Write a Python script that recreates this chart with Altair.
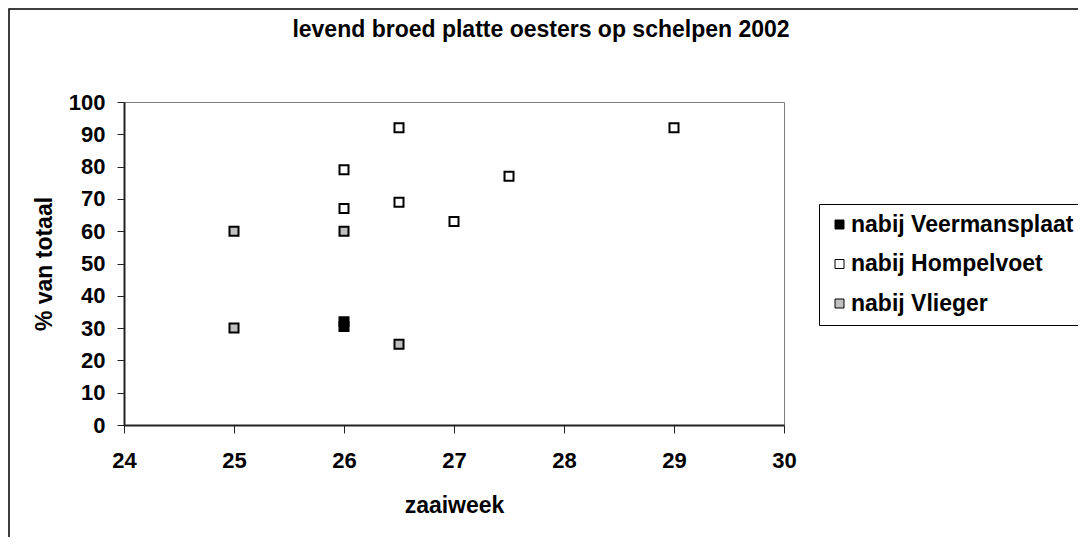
import altair as alt
import pandas as pd

# ---- data ----
series_names = ["nabij Veermansplaat", "nabij Hompelvoet", "nabij Vlieger"]
fill_colors = ["#000000", "#ffffff", "#c0c0c0"]

veermansplaat_week = [26, 26]
veermansplaat_pct = [30.5, 32]

hompelvoet_week = [26, 26, 26.5, 26.5, 27, 27.5, 29]
hompelvoet_pct = [79, 67, 92, 69, 63, 77, 92]

vlieger_week = [25, 25, 26, 26.5]
vlieger_pct = [60, 30, 60, 25]

x_ticks = [24, 25, 26, 27, 28, 29, 30]
y_ticks = [0, 10, 20, 30, 40, 50, 60, 70, 80, 90, 100]

title_text = "levend broed platte oesters op schelpen 2002"
x_title = "zaaiweek"
y_title = "% van totaal"

rows = []
for name, xs, ys in [
    (series_names[0], veermansplaat_week, veermansplaat_pct),
    (series_names[1], hompelvoet_week, hompelvoet_pct),
    (series_names[2], vlieger_week, vlieger_pct),
]:
    for xv, yv in zip(xs, ys):
        rows.append({"week": xv, "pct": yv, "series": name})
df = pd.DataFrame(rows)

FONT = "Liberation Sans"

points = alt.Chart(df).mark_square(
    size=81, stroke="black", strokeWidth=2, opacity=1
).encode(
    x=alt.X(
        "week:Q",
        scale=alt.Scale(domain=[24, 30], nice=False, zero=False),
        axis=alt.Axis(
            values=x_ticks, title=x_title, grid=False, tickSize=8,
            labelPadding=17, titlePadding=23, labelFlush=False,
        ),
    ),
    y=alt.Y(
        "pct:Q",
        scale=alt.Scale(domain=[0, 100], nice=False),
        axis=alt.Axis(
            values=y_ticks, title=y_title, grid=False, tickSize=7,
            labelPadding=12, titlePadding=12,
        ),
    ),
    fill=alt.Fill(
        "series:N",
        scale=alt.Scale(domain=series_names, range=fill_colors),
        title=None,
        legend=alt.Legend(
            orient="none", legendX=695, legendY=102, padding=9,
            strokeColor="black", fillColor="white",
            labelFont=FONT, labelFontSize=23, labelFontWeight="bold",
            labelColor="black", labelOffset=0, rowPadding=15.5,
            symbolType="square", symbolSize=81, symbolStrokeColor="black",
            symbolStrokeWidth=1, labelLimit=400,
        ),
    ),
)

frame = alt.Chart(pd.DataFrame({"k": [0]})).mark_rect(
    fillOpacity=0, stroke="black", strokeWidth=1.5
).encode(
    x=alt.value(-115), x2=alt.value(2000), y=alt.value(-93), y2=alt.value(2000)
)

chart = alt.layer(frame, points).properties(
    width=660,
    height=323,
    background="white",
    autosize=alt.AutoSizeParams(type="none"),
    padding={"left": 116, "top": 94, "right": 294, "bottom": 112},
    title=alt.TitleParams(
        text=title_text, font=FONT, fontSize=23, fontWeight="bold",
        color="black", anchor="middle", dx=87, offset=-34,
    ),
).configure_view(
    stroke="#808080", strokeWidth=1
).configure_axis(
    labelFont=FONT, labelFontSize=22, labelFontWeight="bold", labelColor="black",
    titleFont=FONT, titleFontSize=23, titleFontWeight="bold", titleColor="black",
    domainColor="#222222", domainWidth=2, tickColor="#222222", tickWidth=1,
)

chart.save("out.html", embed_options={"renderer": "svg", "actions": False})
